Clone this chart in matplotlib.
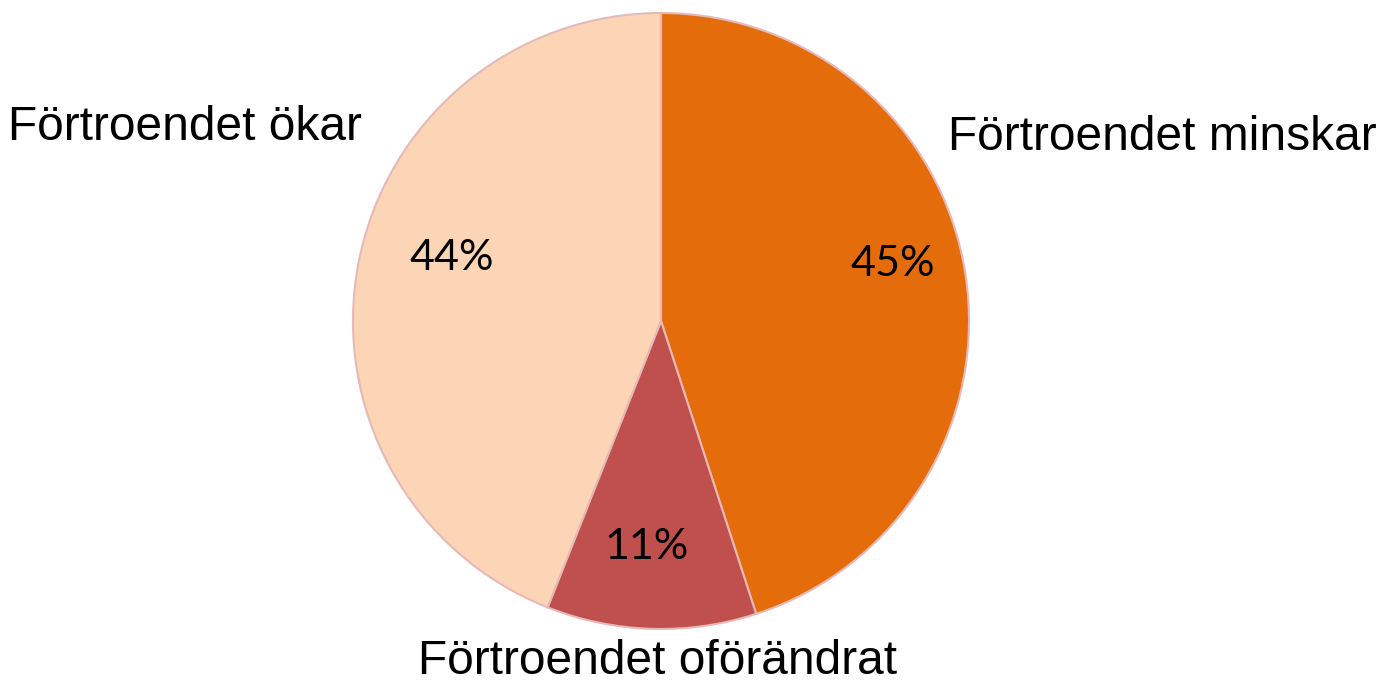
import matplotlib
matplotlib.use("Agg")
import matplotlib.pyplot as plt

categories = ["Förtroendet minskar", "Förtroendet oförändrat", "Förtroendet ökar"]
values = [45, 11, 44]
colors = ["#E46C0A", "#C0504D", "#FBD5B5"]

W, H = 1379, 681
fig = plt.figure(figsize=(W / 100, H / 100), dpi=100)
cx, cy, r = 661, 321, 308
ax = fig.add_axes([(cx - r) / W, (H - cy - r) / H, 2 * r / W, 2 * r / H])

wedges, texts, autotexts = ax.pie(
    values, labels=categories, colors=colors, startangle=90, counterclock=False,
    autopct=lambda p: f"{p:.0f}%",
    wedgeprops=dict(edgecolor="#E6B9B8", linewidth=1.5),
    textprops=dict(fontsize=34.5, family="Liberation Sans", color="black"),
)
ax.set_xlim(-1, 1)
ax.set_ylim(-1, 1)
ax.set_aspect("equal")
ax.axis("off")

def d(px, py):
    return ((px - cx) / r, (cy - py) / r)

label_pos = [(948, 137, "left"), (658, 662, "center"), (362, 127, "right")]
for t, (px, py, ha) in zip(texts, label_pos):
    t.set_position(d(px, py))
    t.set_ha(ha)
    t.set_va("center")

pct_pos = [(893, 264), (647, 547), (452, 258)]
for t, (px, py) in zip(autotexts, pct_pos):
    t.set_position(d(px, py))
    t.set_ha("center")
    t.set_va("center")
    t.set_family("Lato")
    t.set_fontsize(31)

fig.savefig("out.png", dpi=100)
